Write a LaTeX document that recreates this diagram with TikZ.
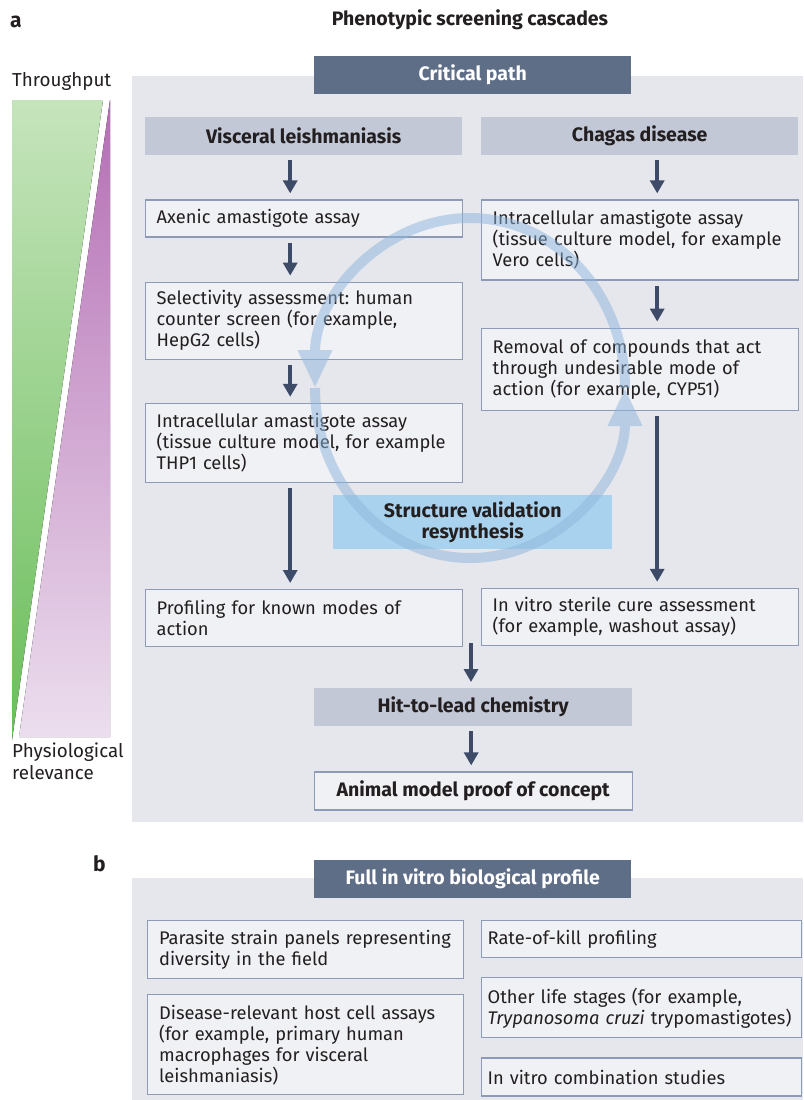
\documentclass[tikz,border=0pt]{standalone}
\usepackage{fontspec}
\setmainfont{Fira Sans}
\frenchspacing
\usepackage{xcolor}
\definecolor{cHead}{HTML}{5F6E87}
\definecolor{cSub}{HTML}{C3C8D7}
\definecolor{cPanel}{HTML}{E6E7EC}
\definecolor{cBox}{HTML}{F0F1F5}
\definecolor{cEdge}{HTML}{8E9BB8}
\definecolor{cArrow}{HTML}{3D4B69}
\definecolor{cLoop}{HTML}{8CB5DC}
\definecolor{cStruct}{HTML}{A9D2EE}
\definecolor{cText}{HTML}{231F20}
\definecolor{cGreenTop}{HTML}{C6E4BC}
\definecolor{cGreenBot}{HTML}{6ABE5A}
\definecolor{cPurpTop}{HTML}{B46EB4}
\definecolor{cPurpBot}{HTML}{ECDEEE}
\usetikzlibrary{positioning,arrows.meta}
\newcommand{\txt}{\fontsize{18.3}{21}\selectfont}
\newcommand{\txtb}{\fontsize{19.5}{21}\selectfont\bfseries}
\tikzset{
  node-head/.style={fill=cHead,text=white,font=\txtb,
    minimum width=317pt,minimum height=38pt,inner sep=0pt,anchor=north west},
  node-sub/.style={fill=cSub,font=\txtb,
    minimum width=317pt,minimum height=38pt,inner sep=0pt,anchor=north west},
  node-box/.style={draw=cEdge,line width=1.2pt,fill=cBox,text width=294pt,
    inner xsep=11.5pt,inner ysep=0pt,align=left,anchor=north west,font=\txt},
  node-box-r/.style={node-box,text width=308pt,inner xsep=6pt},
  node-key/.style={draw=cEdge,line width=1.2pt,fill=cBox,font=\txtb,
    minimum width=318pt,minimum height=38pt,inner sep=0pt,anchor=north west},
  node-loop/.style={fill=cStruct,font=\txtb,align=center,
    minimum width=279pt,minimum height=54pt,inner sep=0pt,anchor=north west},
  node-side/.style={font=\fontsize{18.8}{22}\selectfont,align=left,anchor=north west,inner sep=0pt},
  arrow/.style={-{Triangle[length=13pt,width=14pt]},line width=3.6pt,
    draw=cArrow,shorten <=5pt,shorten >=6pt},
  arrow-loop/.style={-{Triangle[length=38pt,width=32pt]},line width=10pt,draw=cLoop},
}
\begin{document}
\begin{tikzpicture}[x=1pt,y=-1pt,text=cText]
  \useasboundingbox (0,0) rectangle (803,1100);
  % panel a
  \node[font=\fontsize{21}{24}\selectfont\bfseries,anchor=west,inner sep=0pt] (la) at (10,22) {a};
  \node[font=\txtb,inner sep=0pt] (title) at (470,20) {Phenotypic screening cascades};
  \fill[cPanel] (132,76) rectangle (803,822);
  \node[node-head] (crit) at (314,56) {Critical path};

  % throughput / relevance wedges
  \node[node-side] (thr) at (12,72) {Throughput};
  \fill[top color=cGreenTop,bottom color=cGreenBot] (12,100) -- (103,100) -- (12,740) -- cycle;
  \fill[top color=cPurpTop,bottom color=cPurpBot] (110,100) -- (110,737) -- (19,737) -- cycle;
  \node[node-side] (phys) at (12,743) {Physiological\\relevance};

  % visceral leishmaniasis
  \node[node-sub] (vl) at (145,117) {Visceral leishmaniasis};
  \node[node-box,minimum height=37pt,below=44pt of vl] (ax) {Axenic amastigote assay};
  \node[node-box,minimum height=77pt,below=44pt of ax] (sel)
    {Selectivity assessment: human\\counter screen (for example,\\HepG2 cells)};
  \node[node-box,minimum height=79pt,below=43pt of sel] (thp)
    {Intracellular amastigote assay\\(tissue culture model, for example\\THP1 cells)};
  \node[node-box,minimum height=57pt,below=106pt of thp] (prof)
    {Profiling for known modes of\\action};

  % chagas disease
  \node[node-sub] (cd) at (481,117) {Chagas disease};
  \node[node-box,minimum height=80pt,below=44pt of cd] (vero)
    {Intracellular amastigote assay\\(tissue culture model, for example\\Vero cells)};
  \node[node-box,minimum height=82pt,below=47pt of vero] (rem)
    {Removal of compounds that act\\through undesirable mode of\\action (for example, CYP51)};
  \node[node-box,minimum height=57pt,below=177pt of rem] (cure)
    {In vitro sterile cure assessment\\(for example, washout assay)};

  % shared path
  \node[node-sub,minimum width=318pt] (hit) at (314,688) {Hit-to-lead chemistry};
  \node[node-key,below=45pt of hit] (ani) {Animal model proof of concept};
  \node[node-loop] (sv) at (333,495) {Structure validation\\resynthesis};
  \coordinate (join) at (471,643);

  % loop
  \begin{scope}[transparency group,opacity=0.5]
    \draw[arrow-loop] (625,388) arc[start angle=360,end angle=180,x radius=155,y radius=170];
    \draw[arrow-loop] (315,388) arc[start angle=180,end angle=0,x radius=155,y radius=170];
  \end{scope}

  \draw[arrow] ([xshift=-13.5pt]vl.south) -- ([xshift=-13.5pt]ax.north);
  \draw[arrow] ([xshift=-13.5pt]ax.south) -- ([xshift=-13.5pt]sel.north);
  \draw[arrow] ([xshift=-13.5pt]sel.south) -- ([xshift=-13.5pt]thp.north);
  \draw[arrow] ([xshift=-13.5pt]thp.south) -- ([xshift=-13.5pt]prof.north);
  \draw[arrow] ([xshift=17.5pt]cd.south) -- ([xshift=17.5pt]vero.north);
  \draw[arrow] ([xshift=17.5pt]vero.south) -- ([xshift=17.5pt]rem.north);
  \draw[arrow] ([xshift=17.5pt]rem.south) -- ([xshift=17.5pt]cure.north);
  \draw[arrow,shorten <=0pt] (join) -- (join |- hit.north);
  \draw[arrow] ([xshift=-2pt]hit.south) -- ([xshift=-2pt]ani.north);

  % panel b
  \node[font=\fontsize{21}{24}\selectfont\bfseries,anchor=west,inner sep=0pt] (lb) at (93,864) {b};
  \fill[cPanel] (132,878) rectangle (803,1100);
  \node[node-head] (full) at (314,860) {Full in vitro biological profile};
  \node[node-box,text width=293pt,minimum height=58pt] (pan) at (147,920)
    {Parasite strain panels representing\\diversity in the field};
  \node[node-box,text width=293pt,minimum height=100pt,below=15pt of pan] (host)
    {Disease-relevant host cell assays\\(for example, primary human\\macrophages for visceral\\leishmaniasis)};
  \node[node-box-r,minimum height=37pt] (rok) at (481,920) {Rate-of-kill profiling};
  \node[node-box-r,minimum height=60pt,below=19pt of rok] (life)
    {Other life stages (for example,\\\textit{Trypanosoma cruzi} trypomastigotes)};
  \node[node-box-r,minimum height=38pt,below=19pt of life] (comb) {In vitro combination studies};
\end{tikzpicture}
\end{document}
